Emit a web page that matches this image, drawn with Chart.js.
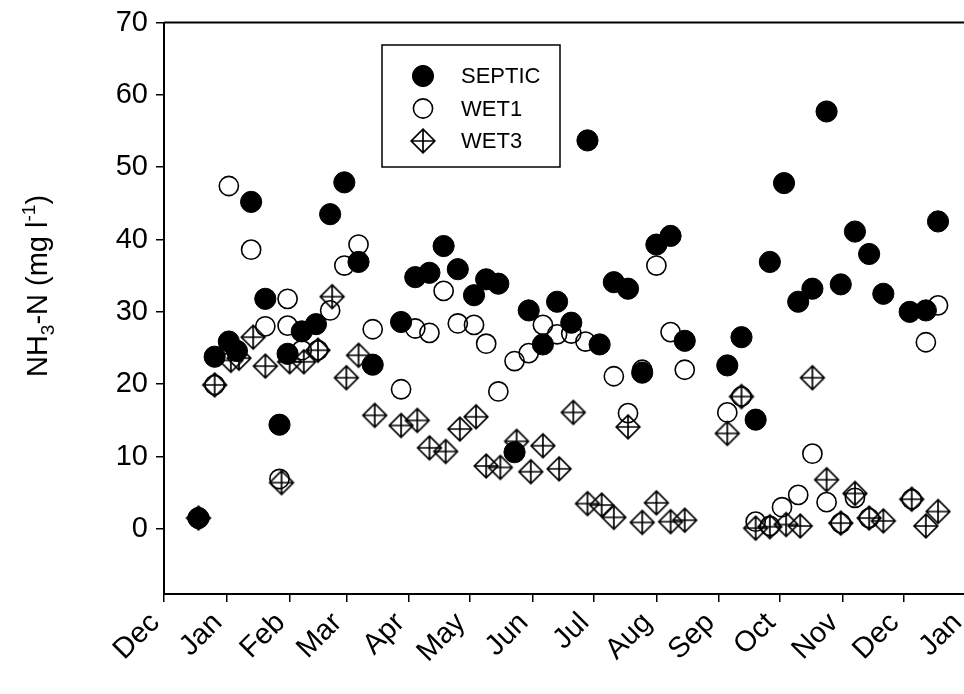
<!DOCTYPE html>
<html>
<head>
<meta charset="utf-8">
<title>NH3-N</title>
<script src="https://cdn.jsdelivr.net/npm/chart.js@4.4.1/dist/chart.umd.min.js"></script>
<style>
  html, body { margin: 0; padding: 0; background: #fff; overflow: hidden; }
  #wrap { position: relative; width: 980px; height: 694px; }
</style>
</head>
<body>
<div id="wrap"><canvas id="nh3Chart"></canvas></div>
<script>
// x values are days counted from 1 December
const monthStarts = [0, 31, 62, 90, 121, 151, 182, 212, 243, 274, 304, 335, 365, 396];
const monthLabels = ['Dec', 'Jan', 'Feb', 'Mar', 'Apr', 'May', 'Jun', 'Jul', 'Aug', 'Sep', 'Oct', 'Nov', 'Dec', 'Jan'];
const yTicks = [0, 10, 20, 30, 40, 50, 60, 70];

const septicDays = [17, 25, 32, 36, 43, 50, 57, 61, 68, 75, 82, 89, 96, 103, 117, 124, 131, 138, 145, 153,
  159, 165, 173, 180, 187, 194, 201, 209, 215, 222, 229, 236, 243, 250, 257, 278, 285, 292, 299, 306,
  313, 320, 327, 334, 341, 348, 355, 368, 376, 382];
const septic = [1.5, 23.8, 25.9, 24.6, 45.2, 31.8, 14.4, 24.2, 27.3, 28.3, 43.5, 47.9, 36.9, 22.7, 28.6, 34.8, 35.4, 39.1, 35.9, 32.3,
  34.5, 33.9, 10.6, 30.2, 25.5, 31.4, 28.5, 53.7, 25.5, 34.1, 33.2, 21.6, 39.3, 40.5, 26.0, 22.6, 26.5, 15.1, 36.9, 47.8,
  31.4, 33.2, 57.7, 33.8, 41.1, 38.0, 32.5, 30.0, 30.2, 42.5];

const wet1Days = [17, 25, 32, 43, 50, 57, 61, 61, 68, 76, 82, 89, 96, 103, 117, 124, 131, 138, 145, 153,
  159, 165, 173, 180, 187, 194, 201, 208, 222, 229, 236, 243, 250, 257, 278, 285, 292, 299, 305, 313,
  320, 327, 334, 341, 348, 369, 376, 382];
const wet1 = [1.5, 19.9, 47.4, 38.6, 28.0, 6.9, 31.8, 28.1, 24.7, 24.7, 30.2, 36.4, 39.3, 27.6, 19.3, 27.7, 27.1, 32.9, 28.4, 28.2,
  25.6, 19.0, 23.2, 24.3, 28.2, 26.9, 27.0, 25.9, 21.1, 16.0, 22.0, 36.4, 27.2, 22.0, 16.1, 18.3, 1.0, 0.4, 3.0, 4.7,
  10.4, 3.7, 0.8, 4.3, 1.5, 4.1, 25.8, 30.9];

const wet3Days = [17, 25, 33, 37, 44, 50, 58, 62, 69, 76, 83, 90, 96, 104, 117, 125, 131, 139, 146, 154,
  159, 166, 174, 181, 187, 195, 202, 209, 216, 222, 229, 236, 243, 250, 257, 278, 285, 292, 299, 307,
  314, 320, 327, 334, 341, 348, 355, 369, 376, 382];
const wet3 = [1.5, 19.9, 23.3, 23.6, 26.5, 22.5, 6.4, 23.1, 23.1, 24.7, 32.1, 20.9, 24.0, 15.7, 14.3, 15.0, 11.2, 10.7, 13.8, 15.5,
  8.7, 8.5, 12.1, 7.9, 11.5, 8.3, 16.1, 3.5, 3.3, 1.6, 14.1, 0.9, 3.6, 1.0, 1.2, 13.2, 18.3, 0.1, 0.3, 0.6,
  0.4, 20.9, 6.8, 0.8, 4.9, 1.5, 1.1, 4.1, 0.4, 2.4];

// axis title pieces: text, font size, baseline shift
const yTitleParts = [['NH', 29, 0], ['3', 19, 7], ['-N (mg l', 29, 0], ['-1', 19, -12], [')', 29, 0]];

const FONT = "Arial, 'Liberation Sans', Helvetica, sans-serif";
Chart.defaults.font.family = FONT;
Chart.defaults.color = '#000';

function pts(xs, ys) {
  return xs.map((x, i) => ({ x: x, y: ys[i] }));
}

// diamond with a cross inside, used as the WET3 marker
function makeDiamond(r, lw) {
  const size = Math.ceil(2 * r + lw + 2);
  const c = document.createElement('canvas');
  c.width = c.height = size;
  const g = c.getContext('2d');
  const m = size / 2;
  g.strokeStyle = '#000';
  g.lineWidth = lw;
  g.beginPath();
  g.moveTo(m, m - r); g.lineTo(m + r, m); g.lineTo(m, m + r); g.lineTo(m - r, m); g.closePath();
  g.moveTo(m, m - r); g.lineTo(m, m + r);
  g.moveTo(m - r, m); g.lineTo(m + r, m);
  g.stroke();
  return c;
}
const diamond = makeDiamond(11.8, 1.7);

const topFrame = {
  id: 'topFrame',
  beforeDatasetsDraw(chart) {
    const a = chart.chartArea, g = chart.ctx;
    g.save();
    g.strokeStyle = '#000';
    g.lineWidth = 2;
    g.beginPath();
    g.moveTo(a.left, a.top);
    g.lineTo(a.right, a.top);
    g.stroke();
    g.restore();
  }
};

const yTitle = {
  id: 'yTitle',
  afterDraw(chart) {
    const g = chart.ctx;
    g.save();
    let total = 0;
    yTitleParts.forEach(p => { g.font = p[1] + 'px ' + FONT; total += g.measureText(p[0]).width; });
    g.translate(47, 286);
    g.rotate(-Math.PI / 2);
    g.fillStyle = '#000';
    g.textBaseline = 'alphabetic';
    let x = -total / 2;
    yTitleParts.forEach(p => {
      g.font = p[1] + 'px ' + FONT;
      g.fillText(p[0], x, p[2]);
      x += g.measureText(p[0]).width;
    });
    g.restore();
  }
};

const legendBox = {
  id: 'legendBox',
  afterDatasetsDraw(chart) {
    const g = chart.ctx;
    g.save();
    g.strokeStyle = '#000';
    g.lineWidth = 1.5;
    g.strokeRect(382, 45, 178, 122);
    g.font = '22px ' + FONT;
    g.fillStyle = '#000';
    g.textBaseline = 'middle';
    chart.data.datasets.forEach((ds, i) => {
      const y = 76 + i * 32.5;
      if (ds.pointStyle === 'circle') {
        g.beginPath();
        g.arc(423, y, ds.pointRadius, 0, Math.PI * 2);
        g.fillStyle = ds.backgroundColor;
        g.fill();
        g.lineWidth = ds.borderWidth;
        g.stroke();
      } else {
        g.drawImage(ds.pointStyle, 423 - ds.pointStyle.width / 2, y - ds.pointStyle.height / 2);
      }
      g.fillStyle = '#000';
      g.fillText(ds.label, 461, y + 1);
    });
    g.restore();
  }
};

const ctx = document.getElementById('nh3Chart').getContext('2d');
new Chart(ctx, {
  type: 'scatter',
  data: {
    datasets: [
      { label: 'SEPTIC', data: pts(septicDays, septic), pointStyle: 'circle', pointRadius: 10.6,
        backgroundColor: '#000', borderColor: '#000', borderWidth: 1 },
      { label: 'WET1', data: pts(wet1Days, wet1), pointStyle: 'circle', pointRadius: 9.6,
        backgroundColor: 'rgba(0,0,0,0)', borderColor: '#000', borderWidth: 1.6 },
      { label: 'WET3', data: pts(wet3Days, wet3), pointStyle: diamond, pointRadius: 12,
        backgroundColor: 'rgba(0,0,0,0)', borderColor: '#000', borderWidth: 1.6 }
    ]
  },
  options: {
    responsive: true,
    maintainAspectRatio: false,
    animation: false,
    events: [],
    layout: { padding: { top: 22.5, right: 6.6, left: 0, bottom: 0 } },
    plugins: { legend: { display: false }, tooltip: { enabled: false } },
    scales: {
      x: {
        type: 'linear', min: 0, max: 396,
        afterBuildTicks: s => { s.ticks = monthStarts.map(v => ({ value: v })); },
        afterFit: s => { s.height = 100; s.paddingLeft = 0; s.paddingRight = 0; },
        ticks: { autoSkip: false, minRotation: 45, maxRotation: 45, padding: 4, labelOffset: -9,
          font: { size: 29 }, color: '#000', callback: (v, i) => monthLabels[i] },
        grid: { drawOnChartArea: false, drawTicks: true, tickLength: 8, color: '#000', lineWidth: 1.5 },
        border: { display: true, color: '#000', width: 2 }
      },
      y: {
        min: -9, max: 70,
        afterBuildTicks: s => { s.ticks = yTicks.map(v => ({ value: v })); },
        afterFit: s => { s.width = 164; s.paddingTop = 0; s.paddingBottom = 0; },
        ticks: { padding: 8, font: { size: 29 }, color: '#000' },
        grid: { drawOnChartArea: false, drawTicks: true, tickLength: 8, color: '#000', lineWidth: 1.5 },
        border: { display: true, color: '#000', width: 2 }
      }
    }
  },
  plugins: [topFrame, yTitle, legendBox]
});
</script>
</body>
</html>
